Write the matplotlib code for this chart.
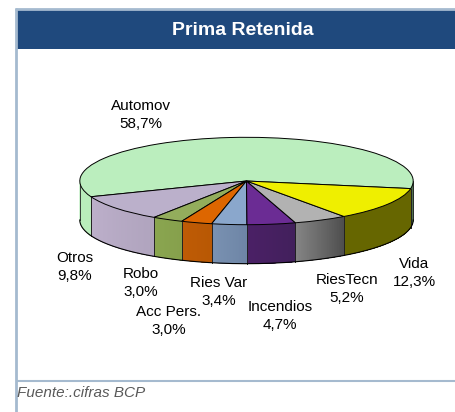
import numpy as np
import matplotlib
matplotlib.use("Agg")
import matplotlib.pyplot as plt
from matplotlib.colors import to_rgb

categories = ["Automov", "Otros", "Robo", "Acc Pers.", "Ries Var", "Incendios", "RiesTecn", "Vida"]
values = [58.7, 9.8, 3.0, 3.0, 3.4, 4.7, 5.2, 12.3]
value_labels = ["58,7%", "9,8%", "3,0%", "3,0%", "3,4%", "4,7%", "5,2%", "12,3%"]

top_colors = ["#BBEEBE", "#BBB0CB", "#93AD5C", "#DD6600", "#8AA7CC", "#6B2C94", "#B2B2B2", "#EFEF00"]
side_left = ["#B9EDBB", "#BDB0CB", "#8AA650", "#BF5B06", "#7A92B2", "#4B2066", "#858585", "#666600"]
side_right = ["#4F7050", "#B0A4BE", "#86A04C", "#B85804", "#6E85A6", "#42205C", "#4E4E4E", "#666600"]
label_xy = [(141, 115), (75, 267), (141, 283), (169, 321), (219, 292), (280, 316), (347, 289), (414, 273)]

W, H = 456, 412
fig = plt.figure(figsize=(W / 100, H / 100), dpi=100, facecolor="white")

# page furniture in pixel coordinates
bg = fig.add_axes([0, 0, 1, 1])
bg.set_xlim(0, W)
bg.set_ylim(H, 0)
bg.axis("off")
frame = "#A5BACF"
bg.fill_between([17, W], 10, 49, color="#1F497D", lw=0)
bg.plot([16, 16], [8, H], color=frame, lw=2, solid_capstyle="butt")
bg.plot([15, W], [9, 9], color=frame, lw=2, solid_capstyle="butt")
bg.plot([16, W], [381, 381], color=frame, lw=1.5, solid_capstyle="butt")
sans = "Liberation Sans"
bg.text(243, 30, "Prima Retenida", color="white", fontsize=14, fontweight="bold",
        family=sans, ha="center", va="center")
bg.text(17, 393, "Fuente:.cifras BCP", color="#595959", fontsize=11, style="italic",
        family=sans, ha="left", va="center")

# pie: a unit circle squeezed into an ellipse by the axes' own scales
cx, cy, rx, ry, depth = 246.5, 181, 166.7, 43.7, 39
ax = fig.add_axes([(cx - rx) / W, 1 - (cy + ry) / H, 2 * rx / W, 2 * ry / H])
ax.patch.set_alpha(0)
start = -10
wedges, _ = ax.pie(values, colors=top_colors, startangle=start, radius=1,
                   wedgeprops=dict(edgecolor="black", linewidth=0.7, zorder=5, clip_on=False))
ax.set_aspect("auto")
ax.set_xlim(-1, 1)
ax.set_ylim(-1, 1)
ax.axis("off")

d = depth / ry
total = sum(values)
edges = start + np.cumsum([0] + values) * 360 / total
for i in range(len(values)):
    pieces = []
    for off in (0, 360):
        lo, hi = max(edges[i] + off, 180), min(edges[i + 1] + off, 360)
        if lo < hi:
            pieces.append((lo, hi))
    cl, cr = np.array(to_rgb(side_left[i])), np.array(to_rgb(side_right[i]))
    for lo, hi in pieces:
        if len(pieces) > 1:  # wedge wrapping round the front: each visible end is flat
            c0 = c1 = cl if hi <= 270 else cr
        else:
            c0, c1 = cl, cr
        steps = max(int((hi - lo) / 0.5), 1)
        grid = np.linspace(lo, hi, steps + 1)
        for s in range(steps):
            t = (s + 0.5) / steps
            th = np.radians(np.linspace(grid[s], hi, max(steps - s, 2) + 1))
            xs, ys = np.cos(th), np.sin(th)
            ax.fill(np.r_[xs, xs[::-1]], np.r_[ys, ys[::-1] - d],
                    color=tuple(c0 + (c1 - c0) * t), lw=0, zorder=2 + s * 1e-4, clip_on=False)
        for a in (lo, hi):
            r = np.radians(a)
            ax.plot([np.cos(r)] * 2, [np.sin(r), np.sin(r) - d], color="#222222", lw=0.6,
                    zorder=3, clip_on=False)
th = np.radians(np.linspace(180, 360, 200))
ax.plot(np.cos(th), np.sin(th) - d, color="black", lw=0.8, zorder=4, clip_on=False)

# labels
for name, val, (x, y) in zip(categories, value_labels, label_xy):
    bg.text(x, y, f"{name}\n{val}", fontsize=11, family=sans, ha="center", va="center",
            color="black", linespacing=1.4, zorder=10)
bg.set_zorder(1)
ax.set_zorder(0)
bg.patch.set_alpha(0)

fig.savefig("out.png", dpi=100, facecolor="white")
